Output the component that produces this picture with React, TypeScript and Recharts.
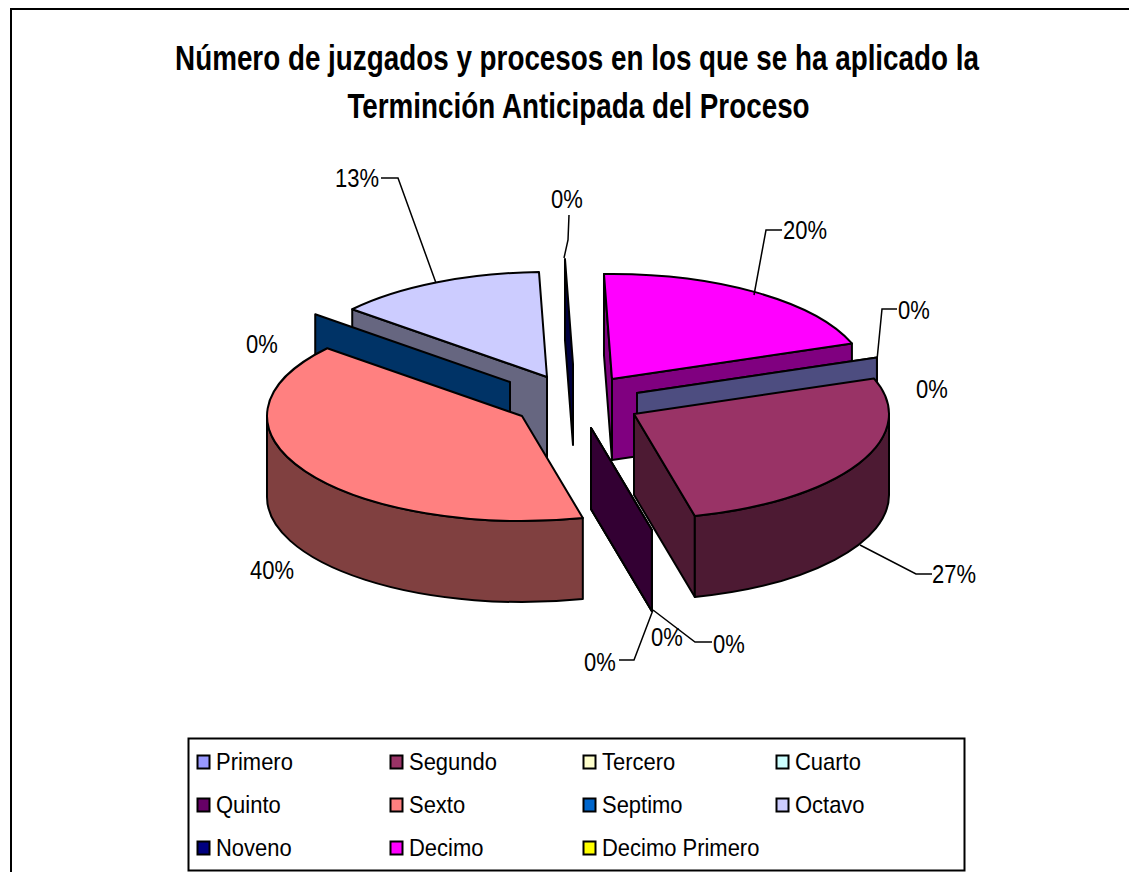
import React from "react";
import { PieChart, Pie, Legend } from "recharts";

const categories = ["Primero","Segundo","Tercero","Cuarto","Quinto","Sexto","Septimo","Octavo","Noveno","Decimo","Decimo Primero"];
const counts = [0, 4, 0, 0, 0, 6, 0, 2, 0, 3, 0];
const colors = ["#9999FF","#993366","#FFFFCC","#CCFFFF","#660066","#FF8080","#0066CC","#CCCCFF","#000080","#FF00FF","#FFFF00"];
const titleLines = ["Número de juzgados y procesos en los que se ha aplicado la", "Terminción Anticipada del Proceso"];

const rows = categories.map((name, i) => ({ name, value: counts[i], color: colors[i] }));

// Back-to-front painting order of the exploded slices
const paintOrder = ["Octavo","Noveno","Decimo","Decimo Primero","Septimo","Primero","Tercero","Cuarto","Sexto","Quinto","Segundo"];

const CX = 570, CY = 400, RX = 255, SQUASH = 105 / 255, DEPTH = 81;
const START = 19.8;

const explode: Record<string, [number, number]> = {
  Primero: [67, -7], Segundo: [64, 14], Tercero: [21, 28], Cuarto: [21, 28], Quinto: [21, 28],
  Sexto: [-48, 16], Septimo: [-60, -18], Octavo: [-23, -23], Noveno: [3, -36], Decimo: [42, -21],
  "Decimo Primero": [67, -7],
};

type Spot = { x: number; y: number; line?: number[][] };
const spots: Record<string, Spot> = {
  Primero: { x: 932, y: 389 },
  Segundo: { x: 954, y: 574, line: [[932, 574], [916, 574], [860, 545]] },
  Tercero: { x: 600, y: 662, line: [[619, 660], [634, 660], [653, 610]] },
  Cuarto: { x: 667, y: 637 },
  Quinto: { x: 729, y: 644, line: [[712, 642], [695, 642], [653, 610]] },
  Sexto: { x: 272, y: 570 },
  Septimo: { x: 262, y: 344 },
  Octavo: { x: 357, y: 178, line: [[381, 178], [398, 178], [436, 283]] },
  Noveno: { x: 567, y: 199, line: [[569, 215], [568, 240], [564, 258]] },
  Decimo: { x: 805, y: 230, line: [[782, 230], [766, 230], [754, 295]] },
  "Decimo Primero": { x: 914, y: 310, line: [[897, 309], [882, 309], [877, 360]] },
};

const darken = (hex: string) => {
  const n = parseInt(hex.slice(1), 16);
  const h = (v: number) => Math.round(v / 2).toString(16).padStart(2, "0");
  return `#${h((n >> 16) & 255)}${h((n >> 8) & 255)}${h(n & 255)}`;
};

const STROKE = { stroke: "#000", strokeWidth: 2, strokeLinejoin: "round" as const };
const SANS = "'Liberation Sans', Arial, sans-serif";

function slice3D(props: any) {
  const { name, startAngle, endAngle, cx, cy, outerRadius, fill } = props;
  const [ox, oy] = explode[name] ?? [0, 0];
  const ccx = cx + ox, ccy = cy + oy;
  const rx = outerRadius, ry = outerRadius * SQUASH;
  const pt = (a: number): [number, number] => {
    const r = (a * Math.PI) / 180;
    return [ccx + rx * Math.cos(r), ccy - ry * Math.sin(r)];
  };
  const [sx, sy] = pt(startAngle);
  const [ex, ey] = pt(endAngle);
  const span = Math.abs(startAngle - endAngle);
  const wall = darken(fill);
  const radial = (x: number, y: number) =>
    `M${ccx},${ccy} L${x},${y} L${x},${y + DEPTH} L${ccx},${ccy + DEPTH} Z`;
  // A radial wall is painted only when it faces the viewer
  const startFaces = Math.cos((startAngle * Math.PI) / 180) < 0;
  const endFaces = Math.cos((endAngle * Math.PI) / 180) > 0;
  const a1 = Math.min(startAngle, 0), a2 = Math.max(endAngle, -180);
  let outer = null;
  if (a1 > a2) {
    const [ax, ay] = pt(a1);
    const [bx, by] = pt(a2);
    const large = a1 - a2 > 180 ? 1 : 0;
    outer = `M${ax},${ay} A${rx},${ry} 0 ${large} 1 ${bx},${by} L${bx},${by + DEPTH} A${rx},${ry} 0 ${large} 0 ${ax},${ay + DEPTH} Z`;
  }
  return (
    <g>
      {endFaces && <path d={radial(ex, ey)} fill={wall} {...STROKE} />}
      {startFaces && <path d={radial(sx, sy)} fill={wall} {...STROKE} />}
      {outer && <path d={outer} fill={wall} {...STROKE} />}
      {span > 0.01 && (
        <path
          d={`M${ccx},${ccy} L${sx},${sy} A${rx},${ry} 0 ${span > 180 ? 1 : 0} 1 ${ex},${ey} Z`}
          fill={fill}
          {...STROKE}
        />
      )}
    </g>
  );
}

const onlySlice = (wanted: string) => (props: any) =>
  props.name === wanted ? slice3D({ ...props, fill: props.color ?? props.payload?.color }) : <g />;

const noShape = () => <g />;

function percentLabel(props: any) {
  const s = spots[props.name];
  if (!s) return <g />;
  return (
    <g>
      {s.line && (
        <polyline points={s.line.map((p) => p.join(",")).join(" ")} fill="none" stroke="#000" strokeWidth={1.5} />
      )}
      <text
        transform={`translate(${s.x},${s.y + 9}) scale(0.88,1)`}
        textAnchor="middle"
        fontFamily={SANS}
        fontSize={25}
        fill="#000"
      >
        {`${Math.round(props.percent * 100)}%`}
      </text>
    </g>
  );
}

function LegendBox() {
  return (
    <svg width={1129} height={872} style={{ display: "block" }}>
      <rect x={188.5} y={738.5} width={776} height={132} fill="#fff" stroke="#000" strokeWidth={2} />
      {rows.map((r, i) => {
        const col = i % 4, row = Math.floor(i / 4);
        const x = 197 + col * 193, y = 762 + row * 43;
        return (
          <g key={r.name}>
            <rect x={x + 0.5} y={y - 6.5} width={12} height={13} fill={r.color} stroke="#000" strokeWidth={2} />
            <text
              transform={`translate(${x + 19},${y + 8}) scale(0.915,1)`}
              fontFamily={SANS}
              fontSize={24}
              fill="#000"
            >
              {r.name}
            </text>
          </g>
        );
      })}
    </svg>
  );
}

export default function App() {
  return (
    <div style={{ position: "absolute", left: 0, top: 0, width: 1129, height: 872, overflow: "hidden", background: "#fff" }}>
      <div style={{ position: "absolute", left: 10, top: 8, width: 1117, height: 862, borderLeft: "2px solid #000", borderTop: "2px solid #000" }} />
      <svg width={1129} height={140} style={{ position: "absolute", left: 0, top: 0 }}>
        <text transform="translate(577,70) scale(0.795,1)" textAnchor="middle" fontFamily={SANS} fontWeight="bold" fontSize={35}>
          {titleLines[0]}
        </text>
        <text transform="translate(578.5,118) scale(0.795,1)" textAnchor="middle" fontFamily={SANS} fontWeight="bold" fontSize={35}>
          {titleLines[1]}
        </text>
      </svg>
      <div style={{ position: "absolute", left: 0, top: 0 }}>
        <PieChart width={1129} height={872} margin={{ top: 0, right: 0, bottom: 0, left: 0 }}>
          {paintOrder.map((n) => {
            const s = onlySlice(n);
            return (
              <Pie
                key={n}
                data={rows}
                dataKey="value"
                nameKey="name"
                cx={CX}
                cy={CY}
                outerRadius={RX}
                startAngle={START}
                endAngle={START - 360}
                shape={s}
                activeShape={s}
                inactiveShape={s}
                stroke="none"
                isAnimationActive={false}
                label={false}
                labelLine={false}
              />
            );
          })}
          <Pie
            data={rows}
            dataKey="value"
            nameKey="name"
            cx={CX}
            cy={CY}
            outerRadius={RX}
            startAngle={START}
            endAngle={START - 360}
            shape={noShape}
            activeShape={noShape}
            inactiveShape={noShape}
            isAnimationActive={false}
            label={percentLabel}
            labelLine={false}
          />
          <Legend
            content={() => <LegendBox />}
            wrapperStyle={{ position: "absolute", left: 0, top: 0, bottom: "auto", width: 1129, height: 872, pointerEvents: "none" }}
          />
        </PieChart>
      </div>
    </div>
  );
}
